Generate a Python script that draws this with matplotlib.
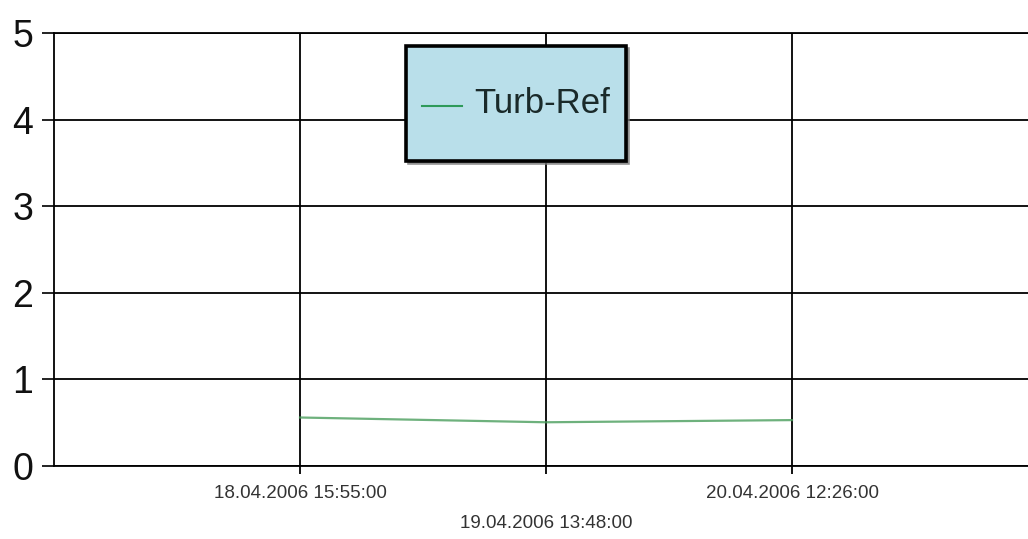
import matplotlib.pyplot as plt

# data
labels = ["18.04.2006 15:55:00", "19.04.2006 13:48:00", "20.04.2006 12:26:00"]
turb_ref = [0.56, 0.505, 0.53]
series_name = "Turb-Ref"

plt.rcParams['font.family'] = ['Liberation Sans', 'DejaVu Sans']

fig = plt.figure(figsize=(10.28, 5.39), dpi=100)
# plot area runs past the right edge of the picture, as in the reference
ax = fig.add_axes([54 / 1028, 1 - 466 / 539, 984 / 1028, 433 / 539])

x = list(range(1, len(labels) + 1))
ax.plot(x, turb_ref, color='#4a9e5c', lw=1.6, alpha=0.8, label=series_name)

ax.set_xlim(0, len(labels) + 1)
ax.set_ylim(0, 5)
ax.set_yticks(range(0, 6))
ax.set_xticks(x)
# stagger the tick labels: every second one drops to a second row
ax.set_xticklabels([("\n" + s) if i % 2 else s for i, s in enumerate(labels)],
                   fontsize=13.5, color='#333333', linespacing=1.95)

ax.grid(True, color='black', lw=1.3)
ax.set_axisbelow(True)
for side in ['left', 'bottom', 'top']:
    ax.spines[side].set_color('black')
    ax.spines[side].set_linewidth(1.3)
ax.spines['right'].set_visible(False)

ax.tick_params(axis='y', length=9, width=1.3, pad=6, labelsize=27, colors='#111111')
ax.tick_params(axis='x', length=6, width=1.3, pad=8, direction='out')

leg = ax.legend(loc='center', bbox_to_anchor=(516 / 1028, 1 - 103.5 / 539),
                bbox_transform=fig.transFigure, fontsize=25, frameon=True,
                fancybox=False, shadow={'color': '#777777', 'alpha': 0.8},
                facecolor='#b9dfea', edgecolor='black', framealpha=1,
                borderpad=0.45, handlelength=1.15, handletextpad=0.35,
                handleheight=3.3, borderaxespad=0)
leg.get_frame().set_linewidth(2.6)
for line in leg.get_lines():
    line.set_color('#2e9a5a')
    line.set_alpha(1)
    line.set_linewidth(1.5)
    # drop the handle to the middle of the text
    line.set_ydata([v - 13.5 for v in line.get_ydata()])
for t in leg.get_texts():
    t.set_color('#1a2a2a')

fig.savefig("out.png", dpi=100)
